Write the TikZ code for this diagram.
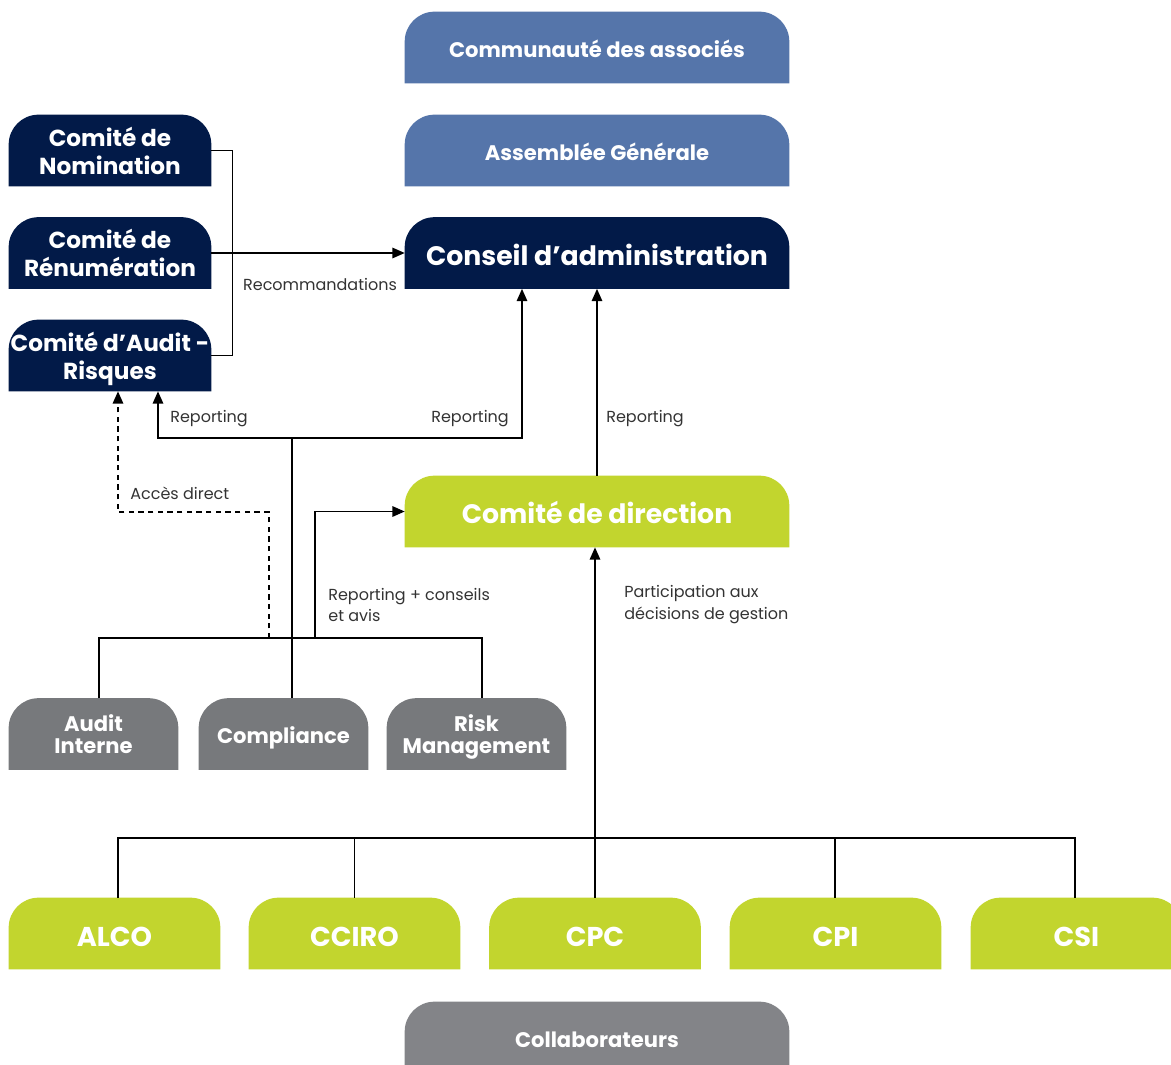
\documentclass[tikz,border=0pt]{standalone}
\usepackage{fontspec}
\setmainfont{Poppins}
\usetikzlibrary{calc, arrows.meta, backgrounds}

\definecolor{assocblue}{RGB}{85,117,170}
\definecolor{navy}{RGB}{2,26,72}
\definecolor{lime}{RGB}{194,213,46}
\definecolor{slate}{RGB}{119,121,124}
\definecolor{staff}{RGB}{131,132,136}

\tikzset{
  orgbox/.style={text=white, font=\bfseries, align=center, inner sep=0pt, minimum height=1.42cm, text depth=0pt},
  widebox/.style={orgbox, minimum width=7.68cm, font=\bfseries\fontsize{12}{14}\selectfont, text height=11pt},
  headbox/.style={widebox, font=\bfseries\fontsize{15.2}{18}\selectfont, text height=14pt},
  cmtbox/.style={orgbox, minimum width=4.04cm, font=\bfseries\fontsize{13.2}{16}\selectfont},
  ctlbox/.style={orgbox, minimum width=3.38cm, font=\bfseries\fontsize{12}{12.2}\selectfont},
  subbox/.style={orgbox, minimum width=4.22cm, font=\bfseries\fontsize{15.5}{18}\selectfont, text height=14.3pt},
  link/.style={line width=0.8pt},
  arr/.style={link, -{Triangle[length=7pt,width=6pt]}},
  lbl/.style={font=\fontsize{9.1}{12.5}\selectfont, text=black!80, inner sep=0pt, align=left}
}

\begin{document}
\begin{tikzpicture}[x=0.02cm, y=-0.02cm]
  \useasboundingbox (0,0) rectangle (1171,1065);

  \node[widebox] (comm) at (597,47.5) {Communauté des associés};
  \node[widebox] (ag) at (597,150.5) {Assemblée Générale};
  \node[headbox] (ca) at (597,253) {Conseil d’administration};
  \node[headbox] (cd) at (597,511.5) {Comité de direction};
  \node[widebox] (collab) at (597,1037.5) {Collaborateurs};

  \node[cmtbox] (nom) at (110,150.5) {Comité de\\Nomination};
  \node[cmtbox] (ren) at (110,253) {Comité de\\Rénumération};
  \node[cmtbox] (audr) at (110,355.5) {Comité d’Audit -\\Risques};

  \node[ctlbox] (ai) at (93.5,734) {Audit\\Interne};
  \node[ctlbox, text height=11pt] (comp) at (283.5,734) {Compliance};
  \node[ctlbox, minimum width=3.58cm] (rm) at (476.5,734) {Risk\\Management};

  \node[subbox] (alco) at (114.5,933.5) {ALCO};
  \node[subbox] (cciro) at (354.5,933.5) {CCIRO};
  \node[subbox] (cpc) at (595,933.5) {CPC};
  \node[subbox] (cpi) at (835.5,933.5) {CPI};
  \node[subbox] (csi) at (1076.5,933.5) {CSI};

  \begin{scope}[on background layer]
    \foreach \n/\c in {comm/assocblue, ag/assocblue, ca/navy, nom/navy, ren/navy, audr/navy,
        cd/lime, ai/slate, comp/slate, rm/slate, alco/lime, cciro/lime, cpc/lime, cpi/lime,
        csi/lime, collab/staff}
      \fill[\c] (\n.south west) [rounded corners=17pt] -- (\n.north west) -- (\n.north east)
        [sharp corners] -- (\n.south east) -- cycle;
  \end{scope}

  \coordinate (rep) at ($(comp.north)+(8.5,0)$);
  \coordinate (repj) at ($(rep)+(0,-260)$);
  \coordinate (bus) at ($(ai.north)+(5.5,-60)$);
  \coordinate (sub) at (cpc.north |- 0,838);

  \draw[link] (nom.east) -- ++(21,0) |- (audr.east);
  \draw[arr] (ren.east) -- (ca.west);
  \draw[arr] (rep) -- (repj) -| ($(audr.south)+(48,0)$);
  \draw[arr] (repj) -| ($(ca.south)+(-75,0)$);
  \draw[arr] (cd.north) -- (ca.south);
  \draw[link] ($(ai.north)+(5.5,0)$) -- (bus) -| ($(rm.north)+(5.5,0)$);
  \draw[arr, dash pattern=on 3pt off 2.5pt] (bus -| 269,0) |- ++(-151,-126) -- ($(audr.south)+(8,0)$);
  \draw[arr] (bus -| 315,0) |- (cd.west);
  \draw[link] (alco.north -| 118,0) |- (sub) -| (csi.north -| 1075,0);
  \draw[link] (cciro.north) -- (cciro.north |- sub);
  \draw[link] (cpi.north -| 835,0) -- (835,838);
  \draw[arr] (cpc.north) -- (cpc.north |- cd.south);

  \node[lbl] (lrec) at (320,284) {Recommandations};
  \node[lbl, anchor=west] (lrep1) at (170,419) {Reporting};
  \node[lbl, anchor=west] (lrep2) at (431,419) {Reporting};
  \node[lbl, anchor=west] (lrep3) at (606,419) {Reporting};
  \node[lbl, anchor=west] (lacc) at (130,493) {Accès direct};
  \node[lbl, anchor=west] (lcons) at (328,605) {Reporting + conseils\\et avis};
  \node[lbl, anchor=west] (lpart) at (624,605) {Participation aux\\décisions de gestion};
\end{tikzpicture}
\end{document}
